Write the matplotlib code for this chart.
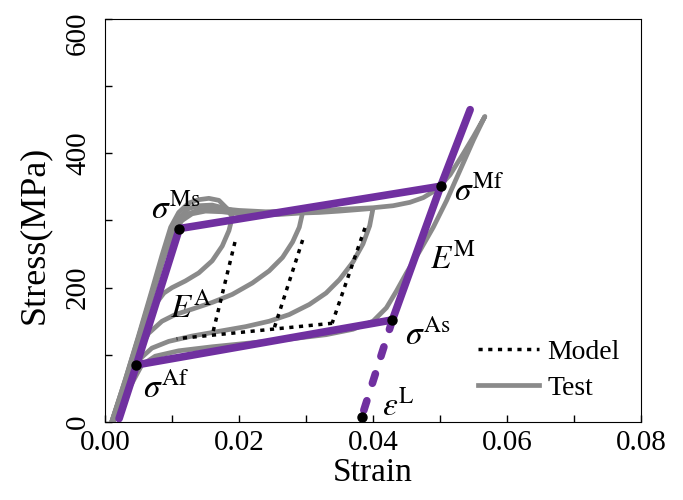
import numpy as np
import matplotlib
matplotlib.use('Agg')
import matplotlib.pyplot as plt
import matplotlib.transforms as mtransforms
from matplotlib.lines import Line2D

plt.rcParams['font.family'] = ['Liberation Serif', 'DejaVu Serif']
plt.rcParams['mathtext.fontset'] = 'stix'

PURPLE = '#7030a0'
GREY = '#8a8a8a'

# measured cycles (strain, stress in MPa), one loading + unloading per cycle
cyc1_strain = [0.0010, 0.0030, 0.0050, 0.0070, 0.0085, 0.0098, 0.0110, 0.0125, 0.0140, 0.0155, 0.0170, 0.0182, 0.0190,
               0.0185, 0.0175, 0.0160, 0.0140, 0.0120, 0.0100, 0.0088, 0.0075, 0.0060, 0.0045, 0.0030, 0.0012]
cyc1_stress = [0, 62, 128, 196, 248, 290, 312, 326, 331, 333, 330, 318, 305,
               285, 262, 240, 222, 210, 200, 192, 175, 140, 100, 55, 0]

cyc2_strain = [0.0010, 0.0030, 0.0050, 0.0070, 0.0088, 0.0100, 0.0112, 0.0125, 0.0140, 0.0160, 0.0180, 0.0200, 0.0220, 0.0245, 0.0270, 0.0295,
               0.0290, 0.0280, 0.0265, 0.0245, 0.0220, 0.0190, 0.0160, 0.0130, 0.0105, 0.0085, 0.0065, 0.0048, 0.0030, 0.0012]
cyc2_stress = [0, 60, 125, 190, 250, 285, 305, 318, 322, 323, 318, 312, 309, 310, 311, 312,
               290, 268, 245, 225, 207, 190, 178, 168, 160, 150, 132, 100, 52, 0]

cyc3_strain = [0.0010, 0.0030, 0.0050, 0.0070, 0.0088, 0.0102, 0.0115, 0.0130, 0.0150, 0.0175, 0.0200, 0.0230, 0.0260, 0.0290, 0.0320, 0.0350, 0.0375, 0.0400,
               0.0395, 0.0385, 0.0370, 0.0350, 0.0330, 0.0305, 0.0275, 0.0245, 0.0210, 0.0170, 0.0130, 0.0095, 0.0070, 0.0050, 0.0032, 0.0012]
cyc3_stress = [0, 58, 122, 186, 245, 282, 300, 310, 314, 313, 310, 308, 309, 311, 312, 314, 316, 318,
               292, 265, 238, 212, 192, 175, 160, 150, 142, 135, 128, 120, 110, 92, 50, 0]

cyc4_strain = [0.0010, 0.0030, 0.0050, 0.0070, 0.0090, 0.0105, 0.0120, 0.0140, 0.0170, 0.0200, 0.0240, 0.0280, 0.0320, 0.0360, 0.0400, 0.0430, 0.0455, 0.0475, 0.0495, 0.0515, 0.0535, 0.0550, 0.0567,
               0.0550, 0.0530, 0.0510, 0.0490, 0.0470, 0.0450, 0.0435, 0.0420, 0.0400, 0.0370, 0.0330, 0.0280, 0.0220, 0.0160, 0.0110, 0.0075, 0.0055, 0.0035, 0.0012]
cyc4_stress = [0, 62, 126, 192, 255, 292, 308, 316, 318, 315, 313, 314, 315, 317, 319, 322, 327, 334, 346, 368, 400, 425, 455,
               420, 375, 330, 290, 255, 222, 195, 170, 150, 138, 130, 124, 118, 112, 106, 98, 85, 48, 0]

# model: partial unloading branches and reverse transformation line
unload1_strain, unload1_stress = [0.0194, 0.0160], [268, 129]
unload2_strain, unload2_stress = [0.0295, 0.0252], [271, 138]
unload3_strain, unload3_stress = [0.0388, 0.0339], [289, 147]
reverse_strain, reverse_stress = [0.0339, 0.0107], [147, 124]

# model: full loop through the characteristic points
load_strain = [0.0021, 0.0047, 0.0111, 0.0501, 0.0545]
load_stress = [5, 85, 288, 351, 465]
back_strain = [0.0501, 0.0429, 0.0047]
back_stress = [351, 152, 85]
resid_strain = [0.0429, 0.0383]
resid_stress = [152, 7]

# key points: sigma_Ms, sigma_Mf, sigma_As, sigma_Af, eps_L
key_strain = [0.0111, 0.0501, 0.0429, 0.0047, 0.0383]
key_stress = [288, 351, 152, 85, 7]

fig = plt.figure(figsize=(6.83, 5), dpi=100)
ax = fig.add_axes([105 / 683, 78 / 500, 536 / 683, 403 / 500])

for xs, ys in [(cyc1_strain, cyc1_stress), (cyc2_strain, cyc2_stress),
               (cyc3_strain, cyc3_stress), (cyc4_strain, cyc4_stress)]:
    ax.plot(xs, ys, color=GREY, lw=3.4, solid_joinstyle='round', solid_capstyle='round', zorder=2)

for xs, ys in [(unload1_strain, unload1_stress), (unload2_strain, unload2_stress),
               (unload3_strain, unload3_stress), (reverse_strain, reverse_stress)]:
    ax.plot(xs, ys, color='black', lw=2.5, ls=(0, (1.2, 1.6)), zorder=3)

ax.plot(load_strain, load_stress, color=PURPLE, lw=5.5, solid_capstyle='round', solid_joinstyle='round', zorder=4)
ax.plot(back_strain, back_stress, color=PURPLE, lw=5.5, solid_capstyle='round', solid_joinstyle='round', zorder=4)
ax.plot(resid_strain, resid_stress, color=PURPLE, lw=5.5, ls=(0, (1.3, 2.4)), dash_capstyle='round', zorder=4)
ax.plot(key_strain, key_stress, 'o', color='black', ms=6.5, zorder=5, clip_on=False)

ann = dict(fontsize=24, ha='left', va='baseline', zorder=6)
ax.text(0.0068, 303, r'$\sigma^{\mathrm{Ms}}$', **ann)
ax.text(0.0521, 330, r'$\sigma^{\mathrm{Mf}}$', **ann)
ax.text(0.0485, 229, r'$E^{\mathrm{M}}$', **ann)
ax.text(0.0448, 115, r'$\sigma^{\mathrm{As}}$', **ann)
ax.text(0.0413, 10, r'$\varepsilon^{\mathrm{L}}$', **ann)
ax.text(0.0097, 156, r'$E^{\mathrm{A}}$', **ann)
ax.text(0.0057, 37, r'$\sigma^{\mathrm{Af}}$', **ann)

handles = [Line2D([], [], color='black', lw=2.5, ls=(0, (1.2, 1.6))),
           Line2D([], [], color=GREY, lw=3.4)]
ax.legend(handles, ['Model', 'Test'], loc='upper left', bbox_to_anchor=(0.696, 0.205),
          frameon=False, fontsize=20, handlelength=2.2, handletextpad=0.3,
          labelspacing=0.38, borderpad=0, borderaxespad=0)

ax.set_xlim(0, 0.08)
ax.set_ylim(0, 600)
ax.set_xticks([0, 0.02, 0.04, 0.06, 0.08])
ax.set_xticklabels(['0.00', '0.02', '0.04', '0.06', '0.08'], fontsize=21)
ax.set_xticks(np.arange(0, 0.081, 0.01), minor=True)
ax.set_yticks([0, 200, 400, 600])
ax.set_yticklabels(['0', '200', '400', '600'], fontsize=21, rotation=90, va='center')
ax.set_yticks(np.arange(0, 601, 100), minor=True)
ax.tick_params(which='both', direction='in', length=5, width=1)
ax.tick_params(axis='x', pad=6)
ax.tick_params(axis='y', pad=10)

# keep the top label inside the figure
top_label = ax.get_yticklabels()[-1]
top_label.set_transform(top_label.get_transform()
                        + mtransforms.ScaledTranslation(0, -10 / 72, fig.dpi_scale_trans))

ax.set_xlabel('Strain', fontsize=24, labelpad=1)
ax.set_ylabel('Stress(MPa)', fontsize=26)
ax.yaxis.set_label_coords(-0.100, 0.464)

fig.savefig('out.png', dpi=100)
